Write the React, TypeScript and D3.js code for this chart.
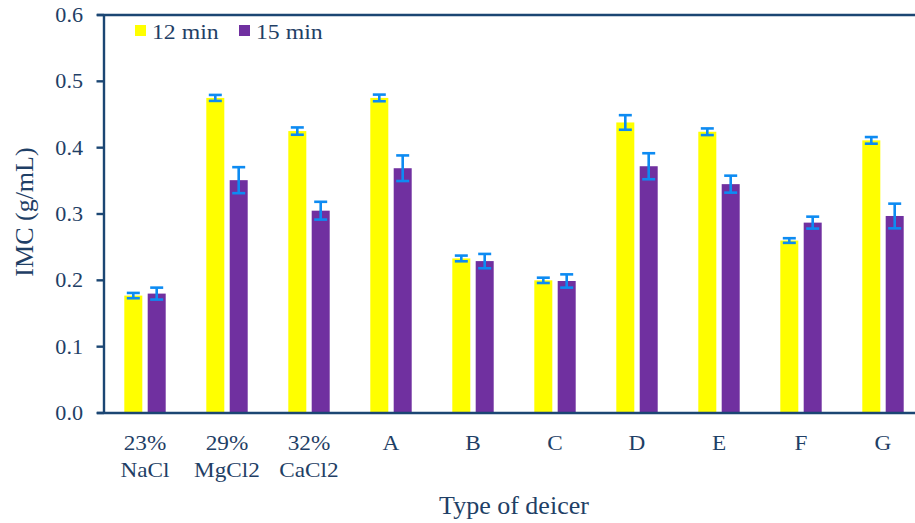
import React, { useEffect } from "react";
import * as d3 from "d3";

const categories = ["23%|NaCl", "29%|MgCl2", "32%|CaCl2", "A", "B", "C", "D", "E", "F", "G"];
const seriesNames = ["12 min", "15 min"];
const min12 = [0.177, 0.475, 0.425, 0.475, 0.233, 0.2, 0.438, 0.424, 0.26, 0.411];
const min15 = [0.18, 0.351, 0.305, 0.369, 0.229, 0.199, 0.372, 0.345, 0.287, 0.297];
const err12 = [0.004, 0.0045, 0.0055, 0.005, 0.0043, 0.004, 0.011, 0.005, 0.0035, 0.005];
const err15 = [0.009, 0.0196, 0.0134, 0.0193, 0.0108, 0.01, 0.0196, 0.0128, 0.009, 0.0186];
const yTicks = [0, 0.1, 0.2, 0.3, 0.4, 0.5, 0.6];

const W = 915;
const H = 523;
const AXIS = "#1B4673";
const TEXT = "#1F3F66";
const ERR = "#0D8BF2";
const COLORS = ["#FFFF00", "#7030A0"];
const FONT = "'Liberation Serif', 'Times New Roman', serif";
const SX = 1.08;

export default function App() {
  useEffect(() => {
    document.body.style.margin = "0";
  }, []);

  const x0 = d3.scaleBand<string>().domain(categories).range([104, 924]).paddingInner(0).paddingOuter(0);
  const x1 = d3.scaleBand<string>().domain(seriesNames).range([20.3, 61.7]).paddingInner(0.23);
  const y = d3.scaleLinear().domain([0, 0.6]).range([413, 15]);

  const series = [
    { name: seriesNames[0], vals: min12, errs: err12, color: COLORS[0] },
    { name: seriesNames[1], vals: min15, errs: err15, color: COLORS[1] },
  ];

  const bw = x1.bandwidth();
  const cap = 6.5;

  const stretchText = (
    key: string,
    tx: number,
    ty: number,
    txt: string,
    size: number,
    anchor: string,
    extra: string = "",
    sx: number = SX
  ) => (
    <text
      key={key}
      transform={`translate(${tx},${ty}) scale(${sx},1)${extra}`}
      fontSize={size}
      fontFamily={FONT}
      fill={TEXT}
      textAnchor={anchor}
    >
      {txt}
    </text>
  );

  return (
    <svg width={W} height={H} style={{ display: "block", background: "#fff" }}>
      {/* bars */}
      {series.map((s) =>
        categories.map((c, i) => (
          <rect
            key={s.name + c}
            x={(x0(c) as number) + (x1(s.name) as number)}
            y={y(s.vals[i])}
            width={bw}
            height={y(0) - y(s.vals[i])}
            fill={s.color}
          />
        ))
      )}
      {/* error bars */}
      {series.map((s) =>
        categories.map((c, i) => {
          const cx = (x0(c) as number) + (x1(s.name) as number) + bw / 2;
          const yt = y(s.vals[i] + s.errs[i]);
          const yb = y(s.vals[i] - s.errs[i]);
          return (
            <g key={"e" + s.name + c} stroke={ERR} strokeWidth={2.6} fill="none">
              <line x1={cx} x2={cx} y1={yt} y2={yb} />
              <line x1={cx - cap} x2={cx + cap} y1={yt} y2={yt} />
              <line x1={cx - cap} x2={cx + cap} y1={yb} y2={yb} />
            </g>
          );
        })
      )}
      {/* axes */}
      <g stroke={AXIS} strokeWidth={2.4}>
        <line x1={104} x2={104} y1={y(0.6) - 1} y2={y(0) + 1} />
        <line x1={97} x2={924} y1={y(0)} y2={y(0)} />
        <line x1={97} x2={924} y1={y(0.6)} y2={y(0.6)} />
        {yTicks.map((t) => (
          <line key={"t" + t} x1={96.5} x2={104} y1={y(t)} y2={y(t)} />
        ))}
      </g>
      {/* y tick labels */}
      {yTicks.map((t) => stretchText("yl" + t, 83, y(t) + 7, d3.format(".1f")(t), 20.5, "end"))}
      {/* x tick labels */}
      {categories.map((c) => {
        const parts = c.split("|");
        const cx = (x0(c) as number) + x0.bandwidth() / 2;
        return parts.map((p, j) => stretchText("xl" + c + j, cx, 450 + j * 26.5, p, 21.5, "middle"));
      })}
      {/* axis titles */}
      {stretchText("xt", 514, 514, "Type of deicer", 26, "middle", "", 1.0)}
      {stretchText("yt", 33, 212, "IMC (g/mL)", 26, "middle", " rotate(-90)", 1.0)}
      {/* legend */}
      <rect x={135} y={25} width={11} height={11} fill={COLORS[0]} />
      {stretchText("lg1", 152, 38.5, seriesNames[0], 22, "start")}
      <rect x={239} y={25} width={11} height={11} fill={COLORS[1]} />
      {stretchText("lg2", 256, 38.5, seriesNames[1], 22, "start")}
    </svg>
  );
}
